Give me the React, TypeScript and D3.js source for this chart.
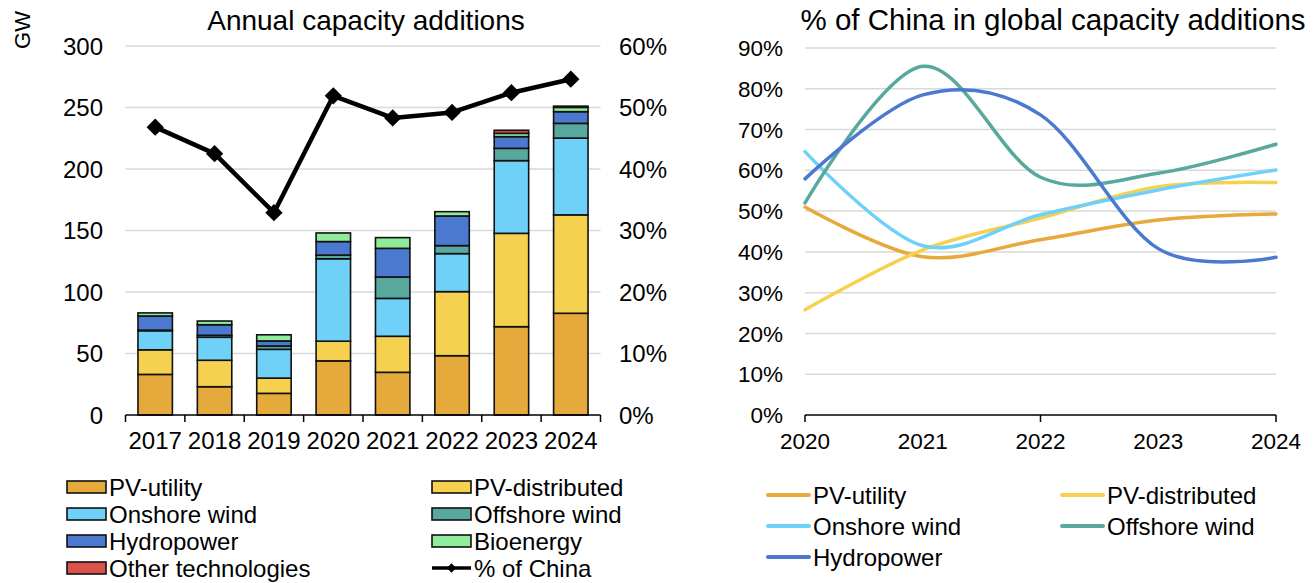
import * as d3 from "d3"

// Left chart: annual capacity additions (GW)
const years = ["2017", "2018", "2019", "2020", "2021", "2022", "2023", "2024"]
const pvUtility = [33, 23, 17.6, 44, 34.7, 48.2, 71.8, 82.7]
const pvDistributed = [20, 21.5, 12.4, 16, 29.3, 52.1, 75.9, 80]
const onshoreWind = [15.5, 18.7, 23.4, 67, 30.8, 30.9, 59.1, 62.4]
const offshoreWind = [0.5, 1.6, 2.7, 3, 17.4, 6.5, 10, 12]
const hydropower = [11.5, 8.6, 4.1, 11, 23.3, 24.1, 9.5, 9.5]
const bioenergy = [2.5, 3, 5, 7, 8.7, 3.5, 2.7, 3.5]
const otherTech = [0, 0, 0, 0, 0, 0, 2.5, 1]
const chinaShare = [46.8, 42.5, 32.9, 51.9, 48.3, 49.2, 52.4, 54.6]
const gwTicks = [0, 50, 100, 150, 200, 250, 300]
const pctTicksLeft = [0, 10, 20, 30, 40, 50, 60]

// Right chart: % of China in global capacity additions
const shareYears = [2020, 2021, 2022, 2023, 2024]
const pvUtilityShare = [51, 38.8, 43, 47.8, 49.3]
const pvDistributedShare = [25.8, 40.5, 48.3, 56, 57]
const onshoreShare = [64.6, 41.5, 49.1, 55.2, 60.1]
const offshoreShare = [52, 85.5, 58.3, 59.3, 66.4]
const hydroShare = [57.9, 78.5, 73.6, 40.8, 38.7]
const pctTicksRight = [0, 10, 20, 30, 40, 50, 60, 70, 80, 90]
const majorYears = [2020, 2022, 2024]

const FONT = "'Liberation Sans', Arial, Helvetica, sans-serif"
const GRID = "#d9d9d9"

const seriesKeys = ["pvUtility", "pvDistributed", "onshore", "offshore", "hydro", "bio", "other"]
const seriesNames: Record<string, string> = {
  pvUtility: "PV-utility",
  pvDistributed: "PV-distributed",
  onshore: "Onshore wind",
  offshore: "Offshore wind",
  hydro: "Hydropower",
  bio: "Bioenergy",
  other: "Other technologies",
}
const colors: Record<string, string> = {
  pvUtility: "#e6a93b",
  pvDistributed: "#f6d14f",
  onshore: "#70d1f8",
  offshore: "#58a89e",
  hydro: "#4a79cf",
  bio: "#8fec9a",
  other: "#d9534a",
}

const rows = years.map((y, i) => ({
  year: y,
  pvUtility: pvUtility[i],
  pvDistributed: pvDistributed[i],
  onshore: onshoreWind[i],
  offshore: offshoreWind[i],
  hydro: hydropower[i],
  bio: bioenergy[i],
  other: otherTech[i],
}))

const shareSeries = [
  { key: "pvUtility", values: pvUtilityShare },
  { key: "pvDistributed", values: pvDistributedShare },
  { key: "onshore", values: onshoreShare },
  { key: "offshore", values: offshoreShare },
  { key: "hydro", values: hydroShare },
]

export default function App() {
  // left chart scales
  const xL = d3.scaleBand().domain(years).range([125.5, 600.5]).paddingInner(0.42).paddingOuter(0.21)
  const yL = d3.scaleLinear().domain([0, 300]).range([415, 46])
  const yP = d3.scaleLinear().domain([0, 60]).range([415, 46])
  const stacked = d3.stack<any>().keys(seriesKeys)(rows)
  const step = xL.step()
  const bounds = d3.range(years.length + 1).map((i) => 125.5 + i * step)

  const chinaLine = d3
    .line<number>()
    .x((_, i) => xL(years[i])! + xL.bandwidth() / 2)
    .y((d) => yP(d))

  // right chart scales
  const xR = d3.scaleLinear().domain([2020, 2024]).range([805, 1276])
  const yR = d3.scaleLinear().domain([0, 90]).range([415, 48])
  const shareLine = d3
    .line<number>()
    .x((_, i) => xR(shareYears[i]))
    .y((d) => yR(d))
    .curve(d3.curveCardinal.tension(0))

  const diamond = d3.symbol().type(d3.symbolDiamond2).size(190)()
  const smallDiamond = d3.symbol().type(d3.symbolDiamond2).size(55)()

  const leftLegend = [...seriesKeys.map((k) => ({ key: k, name: seriesNames[k] })), { key: "china", name: "% of China" }]
  const rightLegend = shareSeries.map((s) => ({ key: s.key, name: seriesNames[s.key] }))

  return (
    <svg
      width={1314}
      height={583}
      style={{ position: "absolute", left: 0, top: 0, background: "#fff" }}
      fontFamily={FONT}
    >
      {/* ---------- left chart ---------- */}
      <text x={366} y={30} textAnchor="middle" fontSize={28}>
        Annual capacity additions
      </text>
      <text transform="translate(30,30) rotate(-90)" textAnchor="middle" fontSize={22}>
        GW
      </text>
      {gwTicks.map((t) => (
        <g key={"g" + t}>
          {t > 0 && <line x1={125.5} x2={600.5} y1={yL(t)} y2={yL(t)} stroke={GRID} strokeWidth={1.5} />}
          <text x={103} y={yL(t)} dy="0.36em" textAnchor="end" fontSize={24}>
            {t}
          </text>
        </g>
      ))}
      {pctTicksLeft.map((t) => (
        <text key={"p" + t} x={619} y={yP(t)} dy="0.36em" fontSize={24}>
          {t}%
        </text>
      ))}
      {stacked.map((layer) => (
        <g key={layer.key} fill={colors[layer.key]}>
          {layer.map((d, i) =>
            d[1] - d[0] > 0 ? (
              <rect
                key={i}
                x={xL(years[i])}
                width={xL.bandwidth()}
                y={yL(d[1])}
                height={yL(d[0]) - yL(d[1])}
                stroke="#111"
                strokeWidth={1.6}
              />
            ) : null
          )}
        </g>
      ))}
      <line x1={125.5} x2={600.5} y1={415} y2={415} stroke="#000" strokeWidth={1.5} />
      {bounds.map((b, i) => (
        <line key={"b" + i} x1={b} x2={b} y1={415} y2={422} stroke="#000" strokeWidth={1.5} />
      ))}
      {years.map((y) => (
        <text key={"x" + y} x={xL(y)! + xL.bandwidth() / 2} y={449} textAnchor="middle" fontSize={24}>
          {y}
        </text>
      ))}
      <path d={chinaLine(chinaShare)!} fill="none" stroke="#000" strokeWidth={4.5} strokeLinejoin="round" />
      {chinaShare.map((v, i) => (
        <path
          key={"d" + i}
          d={diamond!}
          transform={`translate(${xL(years[i])! + xL.bandwidth() / 2},${yP(v)})`}
          fill="#000"
        />
      ))}

      {/* left legend */}
      {leftLegend.map((item, i) => {
        const col = i % 2
        const row = Math.floor(i / 2)
        const lx = col === 0 ? 67 : 432
        const ly = 487 + row * 27
        return (
          <g key={"ll" + item.key}>
            {item.key === "china" ? (
              <g>
                <line x1={lx} x2={lx + 39} y1={ly} y2={ly} stroke="#000" strokeWidth={3.5} />
                <path d={smallDiamond!} transform={`translate(${lx + 19.5},${ly})`} fill="#000" />
              </g>
            ) : (
              <rect x={lx} y={ly - 6} width={39} height={12} fill={colors[item.key]} stroke="#111" strokeWidth={1.6} />
            )}
            <text x={lx + 42} y={ly} dy="0.36em" fontSize={24}>
              {item.name}
            </text>
          </g>
        )
      })}

      {/* ---------- right chart ---------- */}
      <text x={1053} y={30} textAnchor="middle" fontSize={29.5}>
        % of China in global capacity additions
      </text>
      {pctTicksRight.map((t) => (
        <g key={"r" + t}>
          {t > 0 && <line x1={805} x2={1276} y1={yR(t)} y2={yR(t)} stroke={GRID} strokeWidth={1.5} />}
          <text x={783} y={yR(t)} dy="0.36em" textAnchor="end" fontSize={22.5}>
            {t}%
          </text>
        </g>
      ))}
      <line x1={805} x2={1276} y1={415} y2={415} stroke="#000" strokeWidth={1.5} />
      {majorYears.map((y) => (
        <line key={"mt" + y} x1={xR(y)} x2={xR(y)} y1={415} y2={422} stroke="#000" strokeWidth={1.5} />
      ))}
      {shareYears.map((y) => (
        <text key={"rx" + y} x={xR(y)} y={449} textAnchor="middle" fontSize={22.5}>
          {y}
        </text>
      ))}
      {shareSeries.map((s) => (
        <path
          key={"s" + s.key}
          d={shareLine(s.values)!}
          fill="none"
          stroke={colors[s.key]}
          strokeWidth={3.5}
          strokeLinecap="round"
        />
      ))}

      {/* right legend */}
      {rightLegend.map((item, i) => {
        const col = i % 2
        const row = Math.floor(i / 2)
        const lx = col === 0 ? 768 : 1062
        const ly = 495 + row * 31
        return (
          <g key={"rl" + item.key}>
            <line x1={lx} x2={lx + 41} y1={ly} y2={ly} stroke={colors[item.key]} strokeWidth={4} strokeLinecap="round" />
            <text x={lx + 45} y={ly} dy="0.36em" fontSize={24}>
              {item.name}
            </text>
          </g>
        )
      })}
    </svg>
  )
}
